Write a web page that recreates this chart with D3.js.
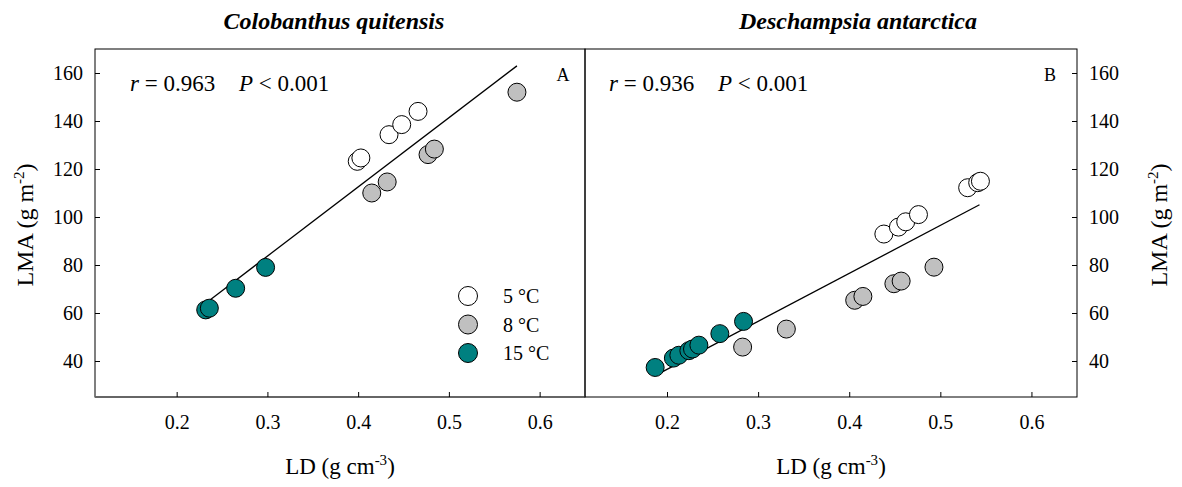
<!DOCTYPE html>
<html><head><meta charset="utf-8">
<script src="https://cdn.jsdelivr.net/npm/d3@7/dist/d3.min.js"></script>
<style>body{margin:0;background:#fff}svg{display:block;font-family:"Liberation Serif","Times New Roman",serif}</style>
</head><body>
<svg id="c" width="1182" height="487"></svg>
<script>
// ---- data ----
const panelTitles = ["Colobanthus quitensis", "Deschampsia antarctica"];
const panelLetters = ["A", "B"];
const rValues = ["0.963", "0.936"];
const pText = "< 0.001";
const groups = ["5 °C", "8 °C", "15 °C"];
const groupColors = ["#ffffff", "#c0c0c0", "#008080"];
const xTicks = [0.2, 0.3, 0.4, 0.5, 0.6];
const yTicks = [40, 60, 80, 100, 120, 140, 160];
const xDomain = [0.11, 0.65];
const yDomain = [25, 170];

// Colobanthus quitensis: [LD, LMA]
const colo5  = [[0.399,123.2],[0.403,124.6],[0.434,134.3],[0.448,138.5],[0.466,144.0]];
const colo8  = [[0.415,110.0],[0.432,114.6],[0.477,126.0],[0.484,128.3],[0.575,152.0]];
const colo15 = [[0.232,61.3],[0.236,62.0],[0.265,70.3],[0.298,79.0]];
// Deschampsia antarctica
const desc5  = [[0.438,92.9],[0.454,95.8],[0.462,98.0],[0.476,101.0],[0.530,112.2],[0.541,114.3],[0.544,114.9]];
const desc8  = [[0.283,45.8],[0.331,53.3],[0.406,65.3],[0.415,66.9],[0.449,72.2],[0.457,73.3],[0.493,79.1]];
const desc15 = [[0.187,37.3],[0.207,41.2],[0.213,42.4],[0.224,44.3],[0.228,45.0],[0.235,46.6],[0.258,51.4],[0.284,56.5]];
// regression lines: slope, intercept, x range
const fitA = {slope: 288.3, intercept: -2.8, x0: 0.232, x1: 0.575};
const fitB = {slope: 200.0, intercept: -3.5, x0: 0.188, x1: 0.543};

(function(){
const panels = [
  {series:[colo5,colo8,colo15], fit:fitA, left:95, right:585, yAxis:"left", legend:true, titleX:334, rX:130, pX:239, letterX:563},
  {series:[desc5,desc8,desc15], fit:fitB, left:585, right:1077, yAxis:"right", legend:false, titleX:858, rX:609, pX:718, letterX:1050}
];
const pTop = 49, pBottom = 397;
const svg = d3.select("#c");

panels.forEach((p, i) => {
  const x = d3.scaleLinear().domain(xDomain).range([p.left, p.right]);
  const y = d3.scaleLinear().domain(yDomain).range([pBottom, pTop]);
  const g = svg.append("g");

  g.append("rect").attr("x", p.left).attr("y", pTop).attr("width", p.right - p.left).attr("height", pBottom - pTop)
    .attr("fill", "none").attr("stroke", "#000").attr("stroke-width", 1);
  if (i === 0) g.append("line").attr("x1", p.left).attr("x2", p.right).attr("y1", pBottom).attr("y2", pBottom)
    .attr("stroke", "#666").attr("stroke-width", 2);

  const xa = g.append("g").attr("transform", `translate(0,${pBottom})`)
    .call(d3.axisBottom(x).tickValues(xTicks).tickSizeInner(-5).tickSizeOuter(0).tickPadding(18).tickFormat(d3.format(".1f")));
  xa.select(".domain").remove();
  xa.selectAll("text").attr("font-size", 20).attr("font-family", "Liberation Serif").attr("fill", "#000");

  const yAx = p.yAxis === "left" ? d3.axisLeft(y) : d3.axisRight(y);
  const ya = g.append("g").attr("transform", `translate(${p.yAxis === "left" ? p.left : p.right},0)`)
    .call(yAx.tickValues(yTicks).tickSizeInner(-5).tickSizeOuter(0).tickPadding(12));
  ya.select(".domain").remove();
  ya.selectAll("text").attr("font-size", 20).attr("font-family", "Liberation Serif").attr("fill", "#000");

  const f = p.fit;
  g.append("line")
    .attr("x1", x(f.x0)).attr("y1", y(f.intercept + f.slope * f.x0))
    .attr("x2", x(f.x1)).attr("y2", y(f.intercept + f.slope * f.x1))
    .attr("stroke", "#000").attr("stroke-width", 1.3);

  p.series.forEach((s, k) => {
    g.selectAll(null).data(s).enter().append("circle")
      .attr("cx", d => x(d[0])).attr("cy", d => y(d[1])).attr("r", 9)
      .attr("fill", groupColors[k]).attr("stroke", "#000").attr("stroke-width", 1);
  });

  svg.append("text").attr("x", p.titleX).attr("y", 29).attr("text-anchor", "middle")
    .attr("font-size", 24).attr("font-weight", "bold").attr("font-style", "italic").text(panelTitles[i]);

  const t = svg.append("text").attr("y", 91).attr("font-size", 23);
  t.append("tspan").attr("x", p.rX).attr("font-style", "italic").text("r");
  t.append("tspan").text(" = " + rValues[i]);
  t.append("tspan").attr("x", p.pX).attr("font-style", "italic").text("P");
  t.append("tspan").text(" " + pText);

  svg.append("text").attr("x", p.letterX).attr("y", 81).attr("text-anchor", "middle")
    .attr("font-size", 18).text(panelLetters[i]);

  const xl = svg.append("text").attr("x", (p.left + p.right) / 2).attr("y", 474).attr("text-anchor", "middle").attr("font-size", 23);
  xl.append("tspan").text("LD (g cm");
  xl.append("tspan").attr("dy", -9).attr("font-size", 15).text("-3");
  xl.append("tspan").attr("dy", 9).text(")");

  const yx = p.yAxis === "left" ? 33 : 1167;
  const yl = svg.append("text").attr("transform", `translate(${yx},${(pTop + pBottom) / 2 + 2}) rotate(-90)`)
    .attr("text-anchor", "middle").attr("font-size", 24);
  yl.append("tspan").text("LMA (g m");
  yl.append("tspan").attr("dy", -9).attr("font-size", 15).text("-2");
  yl.append("tspan").attr("dy", 9).text(")");

  if (p.legend) {
    groups.forEach((gname, k) => {
      const ly = 296 + k * 28.5;
      svg.append("circle").attr("cx", 468).attr("cy", ly).attr("r", 9.5)
        .attr("fill", groupColors[k]).attr("stroke", "#000").attr("stroke-width", 1);
      svg.append("text").attr("x", 503).attr("y", ly + 7).attr("font-size", 20).text(gname);
    });
  }
});
})();
</script>
</body></html>
